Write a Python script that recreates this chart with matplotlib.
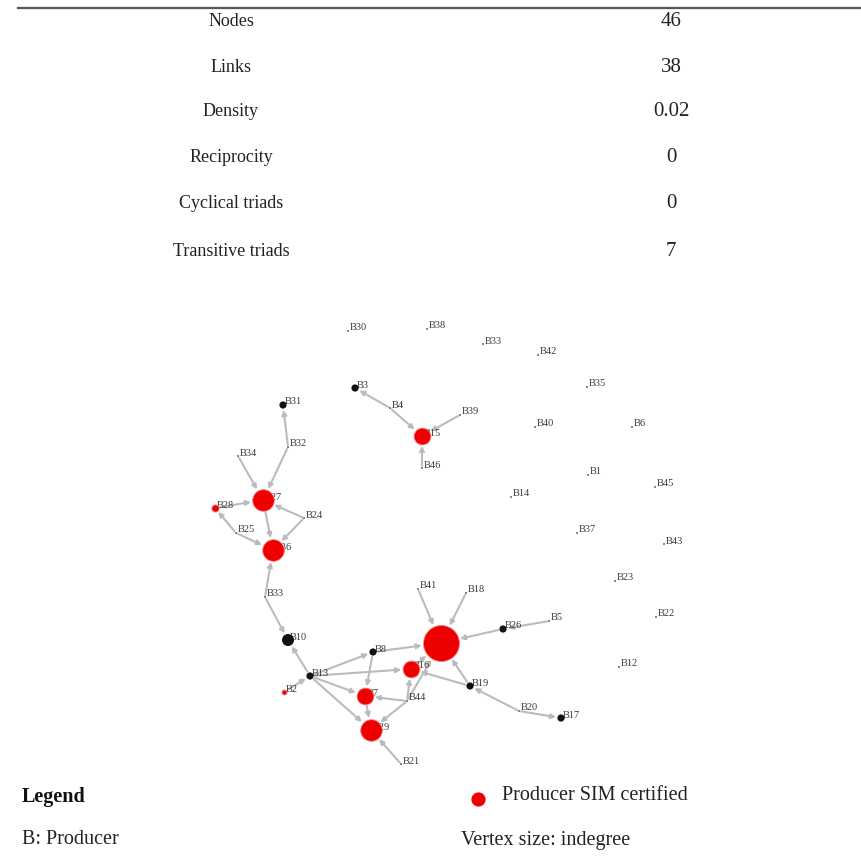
import matplotlib
matplotlib.use("Agg")
import matplotlib.pyplot as plt
import numpy as np

plt.rcParams['font.family'] = ['Liberation Serif', 'DejaVu Serif']

# network summary table
stat_names = ["Nodes", "Links", "Density", "Reciprocity", "Cyclical triads", "Transitive triads"]
stat_values = ["46", "38", "0.02", "0", "0", "7"]

# node layout
node_names = ["B30", "B38", "B33", "B42", "B35", "B40", "B6", "B1", "B45", "B14",
              "B37", "B43", "B23", "B22", "B12",
              "B3", "B4", "B15", "B39", "B46",
              "B31", "B32", "B34", "B27", "B28", "B25", "B24", "B36", "B33b", "B10",
              "B13", "B8", "B9", "B41", "B18", "B26", "B5", "B16", "B19", "B20",
              "B17", "B7", "B29", "B44", "B21", "B2"]
node_x = [348, 427, 483, 538, 587, 535, 632, 588, 655, 511,
          577, 664, 615, 656, 619,
          355, 390, 422, 460, 422,
          283, 288, 238, 263, 215, 236, 304, 273, 265, 288,
          310, 373, 441, 418, 466, 503, 549, 411, 470, 519,
          561, 365, 371, 407, 401, 284]
node_y = [331, 329, 344, 355, 387, 427, 427, 475, 487, 497,
          533, 544, 581, 617, 667,
          388, 408, 436, 415, 468,
          405, 447, 456, 500, 508, 533, 518, 550, 597, 640,
          676, 652, 643, 589, 593, 629, 621, 669, 686, 711,
          718, 696, 730, 701, 764, 692]
certified = ["B15", "B27", "B36", "B28", "B9", "B16", "B7", "B29", "B2"]

edges = [("B4", "B3"), ("B4", "B15"), ("B39", "B15"), ("B46", "B15"),
         ("B32", "B31"), ("B32", "B27"), ("B34", "B27"), ("B28", "B27"), ("B24", "B27"),
         ("B25", "B28"), ("B25", "B36"), ("B27", "B36"), ("B24", "B36"), ("B33b", "B36"),
         ("B33b", "B10"), ("B13", "B10"),
         ("B2", "B13"), ("B13", "B8"), ("B13", "B16"), ("B13", "B7"), ("B13", "B29"),
         ("B8", "B9"), ("B8", "B7"), ("B41", "B9"), ("B18", "B9"), ("B26", "B9"),
         ("B5", "B26"), ("B19", "B9"), ("B20", "B19"), ("B20", "B17"), ("B19", "B16"),
         ("B44", "B7"), ("B44", "B16"), ("B44", "B29"), ("B7", "B29"), ("B21", "B29"),
         ("B16", "B9"), ("B44", "B9")]

pos = {n: (x, y) for n, x, y in zip(node_names, node_x, node_y)}
indeg = {n: 0 for n in node_names}
for s, t in edges:
    indeg[t] += 1


def radius(n):
    d = indeg[n]
    if d == 0:
        return 2.5 if n in certified else 0.8
    return 1.2 + 2.4 * d


fig = plt.figure(figsize=(8.62, 8.68), dpi=100)
ax = fig.add_axes([0, 0, 1, 1])
ax.set_xlim(0, 862)
ax.set_ylim(868, 0)
ax.axis("off")

# table
ax.plot([18, 862], [8, 8], color="#555555", lw=1.6)
row_y = [22, 67, 112, 158, 204, 251]
for name, val, y in zip(stat_names, stat_values, row_y):
    ax.text(231, y, name, ha="center", va="center", fontsize=13, color="#222222")
    ax.text(671, y, val, ha="center", va="center", fontsize=15, color="#222222")

# edges
for s, t in edges:
    ax.annotate("", xy=pos[t], xytext=pos[s],
                arrowprops=dict(arrowstyle="-|>", color="#bbbbbb", lw=1.5,
                                mutation_scale=7,
                                shrinkA=radius(s) * 0.72 + 1,
                                shrinkB=radius(t) * 0.72 + 1),
                zorder=1)

# nodes and labels
for n in node_names:
    x, y = pos[n]
    r = radius(n)
    col = "#ee0000" if n in certified else "#111111"
    ax.scatter([x], [y], s=(2 * r * 0.72) ** 2, color=col, zorder=3,
               edgecolors="#ff8080" if n in certified else "none", linewidths=0.6)
    ax.text(x + 2, y - 3, n.replace("b", ""), fontsize=7.5, color="#3a3a3a",
            ha="left", va="center", zorder=2)

# legend
ax.text(22, 797, "Legend", fontsize=14.5, fontweight="bold", va="center", color="#111111")
ax.text(22, 840, "B: Producer", fontsize=14.5, va="center", color="#222222")
ax.scatter([478], [799], s=85, color="#ee0000", zorder=3)
ax.text(502, 796, "Producer SIM certified", fontsize=14.5, va="center", color="#222222")
ax.text(461, 841, "Vertex size: indegree", fontsize=14.5, va="center", color="#222222")

fig.savefig("out.png", dpi=100)
